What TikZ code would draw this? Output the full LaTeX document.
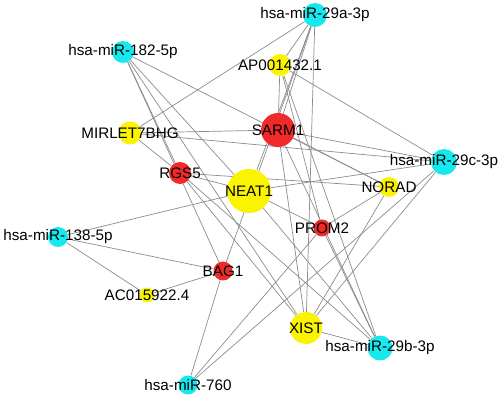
\documentclass[tikz,border=0pt]{standalone}
\usepackage{fontspec}
\setmainfont{Liberation Sans}
\usetikzlibrary{backgrounds}
\definecolor{mirna}{RGB}{22,232,238}
\definecolor{lncrna}{RGB}{250,244,0}
\definecolor{mrna}{RGB}{240,42,42}
\definecolor{edgegray}{RGB}{140,140,140}
\begin{document}
\begin{tikzpicture}[x=0.03cm, y=-0.03cm, font=\fontsize{13}{15}\selectfont,
    gene/.style={circle, inner sep=0pt, minimum size=#1*0.06cm},
    mir/.style={gene=#1, fill=mirna},
    lnc/.style={gene=#1, fill=lncrna},
    mrn/.style={gene=#1, fill=mrna},
    edge/.style={draw=edgegray, line width=0.6pt}]
    \useasboundingbox (0,0) rectangle (498,397);

    % miRNAs
    \node[mir=12, label=center:hsa-miR-29a-3p] (m29a) at (315,15) {};
    \node[mir=11, label=center:hsa-miR-182-5p] (m182) at (123,52) {};
    \node[mir=13, label=center:hsa-miR-29c-3p] (m29c) at (444,162) {};
    \node[mir=10, label=center:hsa-miR-138-5p] (m138) at (58,237) {};
    \node[mir=9.5, label=center:hsa-miR-760] (m760) at (188,385) {};
    \node[mir=12.5, label=center:hsa-miR-29b-3p] (m29b) at (380,348) {};

    % lncRNAs
    \node[lnc=11, label=center:AP001432.1] (ap) at (280,65) {};
    \node[lnc=11.5, label=center:MIRLET7BHG] (mirlet) at (130,133) {};
    \node[lnc=22, label=center:NEAT1] (neat) at (249,191) {};
    \node[lnc=10, label=center:NORAD] (norad) at (389,187) {};
    \node[lnc=7.5, label=center:AC015922.4] (ac) at (147,295) {};
    \node[lnc=16, label=center:XIST] (xist) at (306,328) {};

    % mRNAs
    \node[mrn=17, label=center:SARM1] (sarm) at (278,130) {};
    \node[mrn=11, label=center:RGS5] (rgs) at (180,173) {};
    \node[mrn=8.5, label=center:PROM2] (prom) at (322,228) {};
    \node[mrn=9.5, label=center:BAG1] (bag) at (223,271) {};

    % Interactions
    \begin{scope}[on background layer]
        \foreach \t in {mirlet,ap,sarm,neat,xist,bag} \draw[edge] (m29a) -- (\t);
        \foreach \t in {norad,rgs,xist,neat,bag} \draw[edge] (m182) -- (\t);
        \foreach \t in {sarm,m29c,rgs} \draw[edge] (mirlet) -- (\t);
        \foreach \t in {sarm,m29c,prom,m29b} \draw[edge] (ap) -- (\t);
        \foreach \t in {m29c,norad,xist,m29b} \draw[edge] (sarm) -- (\t);
        \foreach \t in {neat,norad,xist,m29b} \draw[edge] (rgs) -- (\t);
        \foreach \t in {m138,m29c,prom,m29b} \draw[edge] (neat) -- (\t);
        \foreach \t in {prom,xist} \draw[edge] (norad) -- (\t);
        \foreach \t in {m760,m29b} \draw[edge] (prom) -- (\t);
        \foreach \t in {bag,ac} \draw[edge] (m138) -- (\t);
        \foreach \t in {ac,m760} \draw[edge] (bag) -- (\t);
        \foreach \t in {xist,m760} \draw[edge] (m29c) -- (\t);
        \draw[edge] (xist) -- (m29b);
    \end{scope}

\end{tikzpicture}
\end{document}
